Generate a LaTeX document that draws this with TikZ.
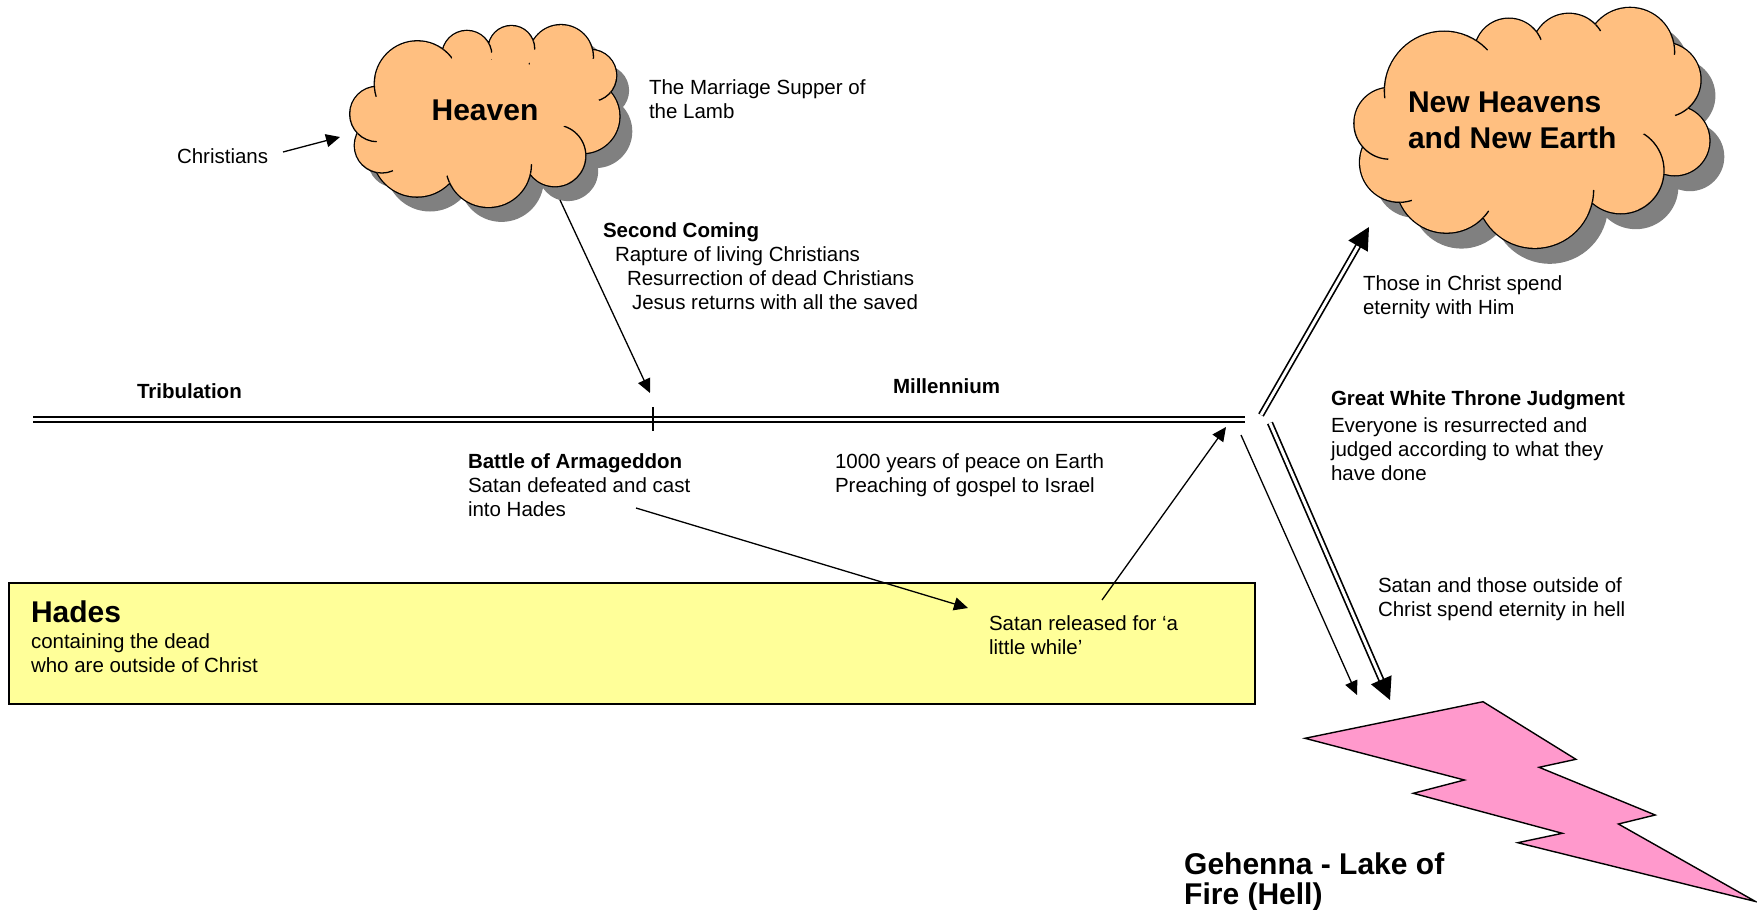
\documentclass[tikz,border=0pt]{standalone}
\usepackage{fontspec}
\setmainfont{Liberation Sans}
\usetikzlibrary{arrows.meta}
\definecolor{cloudfill}{RGB}{255,191,128}
\definecolor{shadowgray}{RGB}{128,128,128}
\definecolor{hadesfill}{RGB}{255,255,153}
\definecolor{boltfill}{RGB}{255,153,204}
\newcommand{\txtlines}[1]{\begin{tabular}[t]{@{}l@{}}#1\end{tabular}}
\def\heavenlist{377.4/114/27.1, 381.8/145.5/26.9, 417/151.8/44.7, 488.5/164.6/42.3, 554.9/155.8/30.3, 582.6/116.4/36.7, 590.6/75.5/25.5, 561/57/31.8, 511.4/48.8/22.7, 466.9/55.4/24.4, 417.4/83.9/42.5}
\def\newlist{1389.8/123.3/35.3, 1399.4/162.4/39.3, 1446.5/182.2/50.4, 1534.8/189.6/58.2, 1620.8/170.6/42.6, 1674.8/140.7/34.5, 1663.4/79.7/37, 1630/52/44, 1568.9/50.4/36.5, 1508.9/52.9/34.1, 1444/90.8/59}
% inner puff line: circle list, circle centre x, y, radius, cusp x, y, length
\newcommand{\cloudtick}[7]{%
  \begin{scope}
    \clip foreach \ccx/\ccy/\crr in #1 {(\ccx,\ccy) circle[radius=\crr]};
    \clip (#5,#6) circle[radius=#7];
    \draw[line width=1.3pt] (#2,#3) circle[radius=#4+0.65];
  \end{scope}}
\tikzset{
  txt/.style={anchor=base west, inner sep=0pt, outer sep=0pt, font=\fontsize{20.5}{24}\selectfont},
  btxt/.style={txt, font=\fontsize{20.5}{24}\selectfont\bfseries},
  bigtxt/.style={anchor=base west, inner sep=0pt, outer sep=0pt, font=\fontsize{30}{36}\selectfont\bfseries},
  thinarrow/.style={line width=1.3pt, -{Triangle[length=14pt,width=13pt]}},
  dblline/.style={double, double distance=3pt, line width=2pt},
  dblarrow/.style={double, double distance=3pt, line width=1.7pt, -{Triangle[length=22pt,width=22pt]}},
}
\begin{document}
\begin{tikzpicture}[x=1pt,y=-1pt]
\path[use as bounding box, fill=white] (0,0) rectangle (1757,910);

% Heaven cloud
\fill[shadowgray, shift={(13,15)}] foreach \cx/\cy/\rr in \heavenlist {(\cx,\cy) circle[radius=\rr]} (490,115) ellipse[x radius=100, y radius=55];
\draw[line width=2.6pt] foreach \cx/\cy/\rr in \heavenlist {(\cx,\cy) circle[radius=\rr]};
\fill[cloudfill] foreach \cx/\cy/\rr in \heavenlist {(\cx,\cy) circle[radius=\rr]} (490,115) ellipse[x radius=100, y radius=55];
\cloudtick{\heavenlist}{417.4}{83.9}{42.5}{443.2}{50.1}{12}
\cloudtick{\heavenlist}{466.9}{55.4}{24.4}{489}{45.2}{8}
\cloudtick{\heavenlist}{511.4}{48.8}{22.7}{533}{41.9}{8}
\cloudtick{\heavenlist}{561}{57}{31.8}{592.1}{50}{9}
\cloudtick{\heavenlist}{590.6}{75.5}{25.5}{610}{92.1}{14}
\cloudtick{\heavenlist}{554.9}{155.8}{30.3}{585.1}{153}{34}
\cloudtick{\heavenlist}{488.5}{164.6}{42.3}{529.9}{172.9}{9}
\cloudtick{\heavenlist}{488.5}{164.6}{42.3}{449.9}{182}{7}
\cloudtick{\heavenlist}{381.8}{145.5}{26.9}{377.1}{171.9}{16}
\cloudtick{\heavenlist}{377.4}{114}{27.1}{357.8}{130.5}{22}
\cloudtick{\heavenlist}{417.4}{83.9}{42.5}{375}{87}{10}
\node[anchor=base, inner sep=0pt, font=\fontsize{30}{36}\selectfont\bfseries] (heaven) at (485,120) {Heaven};

% New Heavens cloud
\fill[shadowgray, shift={(15,16)}] foreach \cx/\cy/\rr in \newlist {(\cx,\cy) circle[radius=\rr]} (1532,127) ellipse[x radius=140, y radius=75];
\draw[line width=2.6pt] foreach \cx/\cy/\rr in \newlist {(\cx,\cy) circle[radius=\rr]};
\fill[cloudfill] foreach \cx/\cy/\rr in \newlist {(\cx,\cy) circle[radius=\rr]} (1532,127) ellipse[x radius=140, y radius=75];
\cloudtick{\newlist}{1444}{90.8}{59}{1385}{88.3}{10}
\cloudtick{\newlist}{1444}{90.8}{59}{1476.6}{41.7}{14}
\cloudtick{\newlist}{1508.9}{52.9}{34.1}{1536.7}{33.1}{8}
\cloudtick{\newlist}{1568.9}{50.4}{36.5}{1595.2}{25.1}{8}
\cloudtick{\newlist}{1630}{52}{44}{1673.3}{44}{11}
\cloudtick{\newlist}{1663.4}{79.7}{37}{1686.8}{108.3}{14}
\cloudtick{\newlist}{1620.8}{170.6}{42.6}{1663.3}{173.2}{44}
\cloudtick{\newlist}{1534.8}{189.6}{58.2}{1591.7}{201.6}{12}
\cloudtick{\newlist}{1446.5}{182.2}{50.4}{1483.1}{216.6}{8}
\cloudtick{\newlist}{1399.4}{162.4}{39.3}{1400.1}{201.7}{12}
\cloudtick{\newlist}{1389.8}{123.3}{35.3}{1363.4}{146.7}{28}
\node[bigtxt] (newheav) at (1408,112) {\txtlines{New Heavens\\and New Earth}};

% Hades box
\node[draw=black, line width=1.5pt, fill=hadesfill, minimum width=1246pt, minimum height=121pt, inner sep=0pt] (hades) at (632,643.5) {};
\node[bigtxt] (hadestitle) at (31,622) {Hades};
\node[txt] (hadesbody) at (31,648) {\txtlines{containing the dead\\who are outside of Christ}};

% lightning bolt
\draw[fill=boltfill, line width=1.4pt, line join=miter]
  (1305,738.3) -- (1483,701.7) -- (1575.9,759.3) -- (1539.1,767.3) -- (1655.2,815) -- (1618.4,824)
  -- (1755.5,901.5) -- (1517.8,842.7) -- (1562.3,833.3) -- (1413.3,793.3) -- (1464.4,780) -- cycle;
\node[anchor=base west, inner sep=0pt, font=\fontsize{30}{29.5}\selectfont\bfseries] (gehenna) at (1184,874) {\txtlines{Gehenna - Lake of\\Fire (Hell)}};

% timeline
\coordinate (tlL) at (33,419.5);
\coordinate (tlR) at (1245,419.5);
\draw[dblline] (tlL) -- (tlR);
\coordinate (tickT) at (653,407);
\coordinate (tickB) at (653,431);
\draw[line width=1.2pt] (tickT) -- (tickB);

% texts
\node[txt] (christ) at (177,163) {Christians};
\node[txt] (marriage) at (649,94) {\txtlines{The Marriage Supper of\\the Lamb}};
\node[btxt] (trib) at (137,398) {Tribulation};
\node[btxt] (mill) at (893,393) {Millennium};
\node[txt] (second) at (603,237) {\txtlines{\textbf{Second Coming}\\\hspace{12pt}Rapture of living Christians\\\hspace{24pt}Resurrection of dead Christians\\\hspace{29pt}Jesus returns with all the saved}};
\node[txt] (battle) at (468,468) {\txtlines{\textbf{Battle of Armageddon}\\Satan defeated and cast\\into Hades}};
\node[txt] (peace) at (835,468) {\txtlines{1000 years of peace on Earth\\Preaching of gospel to Israel}};
\node[txt] (released) at (989,630) {\txtlines{Satan released for ‘a\\little while’}};
\node[txt] (those) at (1363,290) {\txtlines{Those in Christ spend\\eternity with Him}};
\node[txt] (gwt) at (1331,405) {\txtlines{\textbf{Great White Throne Judgment}\\[3pt]Everyone is resurrected and\\judged according to what they\\have done}};
\node[txt] (satanhell) at (1378,592) {\txtlines{Satan and those outside of\\Christ spend eternity in hell}};

% connectors
\coordinate (christA) at (283,152);
\coordinate (christB) at (340,137);
\draw[thinarrow] (christA) -- (christB);

\coordinate (secA) at (560,200);
\coordinate (secB) at (650,393);
\draw[thinarrow] (secA) -- (secB);

\coordinate (batA) at (636,508);
\coordinate (batB) at (968,608);
\draw[thinarrow] (batA) -- (batB);

\coordinate (relA) at (1102,600);
\coordinate (relB) at (1226,427);
\draw[thinarrow] (relA) -- (relB);

\coordinate (upA) at (1261,415);
\coordinate (upB) at (1369,227);
\draw[dblarrow] (upA) -- (upB);

\coordinate (dnA) at (1270,423);
\coordinate (dnB) at (1390,700);
\draw[dblarrow] (dnA) -- (dnB);

\coordinate (thA) at (1241,435);
\coordinate (thB) at (1357,695);
\draw[thinarrow] (thA) -- (thB);
\end{tikzpicture}
\end{document}
